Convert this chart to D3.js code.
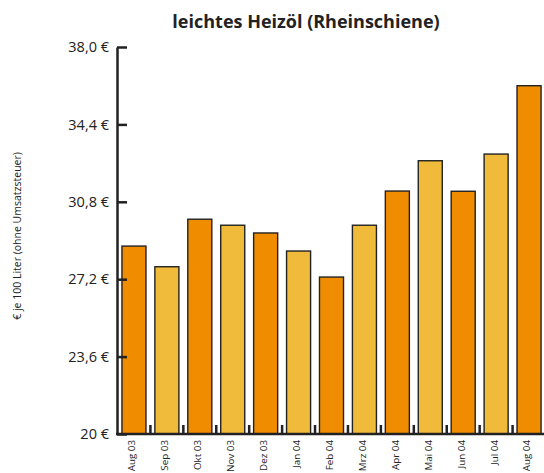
<!DOCTYPE html>
<html>
<head>
<meta charset="utf-8">
<script src="https://cdn.jsdelivr.net/npm/d3@7"></script>
<style>
  body { margin: 0; background: #fff; }
  text { font-family: "Open Sans", "Noto Sans", sans-serif; fill: #222; }
</style>
</head>
<body>
<div id="chart"></div>
<script>
// months shown on the x axis
const months = ["Aug 03", "Sep 03", "Okt 03", "Nov 03", "Dez 03", "Jan 04", "Feb 04",
                "Mrz 04", "Apr 04", "Mai 04", "Jun 04", "Jul 04", "Aug 04"];
// price in € per 100 litres (without VAT)
const prices = [28.74, 27.78, 29.99, 29.71, 29.35, 28.51, 27.30,
                29.71, 31.30, 32.71, 31.29, 33.02, 36.20];
const yTicks = [20, 23.6, 27.2, 30.8, 34.4, 38.0];
const yTickLabels = ["20 €", "23,6 €", "27,2 €", "30,8 €", "34,4 €", "38,0 €"];

const width = 544, height = 473;
const colors = ["#f08c00", "#f0bb3a"];

const svg = d3.select("#chart").append("svg")
    .attr("width", width)
    .attr("height", height);

const x = d3.scaleBand()
    .domain(months)
    .range([117, 546])
    .paddingInner(0.27)
    .paddingOuter(0.15);

const y = d3.scaleLinear()
    .domain([20, 38])
    .range([434, 47]);

// title
svg.append("text")
    .attr("x", 306)
    .attr("y", 28)
    .attr("text-anchor", "middle")
    .style("font-size", "18px")
    .style("font-weight", "bold")
    .text("leichtes Heizöl (Rheinschiene)");

// bars
svg.append("g")
  .selectAll("rect")
  .data(prices)
  .join("rect")
    .attr("x", (d, i) => x(months[i]))
    .attr("y", d => y(d))
    .attr("width", x.bandwidth())
    .attr("height", d => y(20) - y(d))
    .attr("fill", (d, i) => colors[i % 2])
    .attr("stroke", "#222")
    .attr("stroke-width", 1.4);

// y axis with inward ticks
const yAxis = d3.axisRight(y)
    .tickValues(yTicks)
    .tickSize(10)
    .tickSizeOuter(0)
    .tickFormat("");
const yAxisG = svg.append("g")
    .attr("transform", "translate(117,0)")
    .call(yAxis);
yAxisG.select(".domain")
    .attr("stroke", "#222")
    .attr("stroke-width", 2.5);
yAxisG.selectAll(".tick line")
    .attr("stroke", "#222")
    .attr("stroke-width", 2.5);

// y tick labels
svg.append("g")
  .selectAll("text")
  .data(yTicks)
  .join("text")
    .attr("x", 109)
    .attr("y", d => y(d))
    .attr("dy", "0.36em")
    .attr("text-anchor", "end")
    .style("font-size", "14.5px")
    .text((d, i) => yTickLabels[i]);

// x axis baseline
svg.append("line")
    .attr("x1", 116)
    .attr("x2", width)
    .attr("y1", y(20))
    .attr("y2", y(20))
    .attr("stroke", "#222")
    .attr("stroke-width", 2.5);

// little tick marks between the bars
const gap = x.step() - x.bandwidth();
svg.append("g")
  .selectAll("line")
  .data(months)
  .join("line")
    .attr("x1", d => x(d) + x.bandwidth() + gap / 2)
    .attr("x2", d => x(d) + x.bandwidth() + gap / 2)
    .attr("y1", y(20))
    .attr("y2", y(20) - 9)
    .attr("stroke", "#222")
    .attr("stroke-width", 2.5);

// x labels, rotated
svg.append("g")
  .selectAll("text")
  .data(months)
  .join("text")
    .attr("transform", d => `translate(${x(d) + x.bandwidth() / 2 - 2},440) rotate(-90)`)
    .attr("dy", "0.35em")
    .attr("text-anchor", "end")
    .style("font-size", "9.8px")
    .text(d => d);

// y title
svg.append("text")
    .attr("transform", "translate(17,236) rotate(-90)")
    .attr("text-anchor", "middle")
    .attr("dy", "0.35em")
    .style("font-size", "10.5px")
    .text("€ je 100 Liter (ohne Umsatzsteuer)");
</script>
</body>
</html>
